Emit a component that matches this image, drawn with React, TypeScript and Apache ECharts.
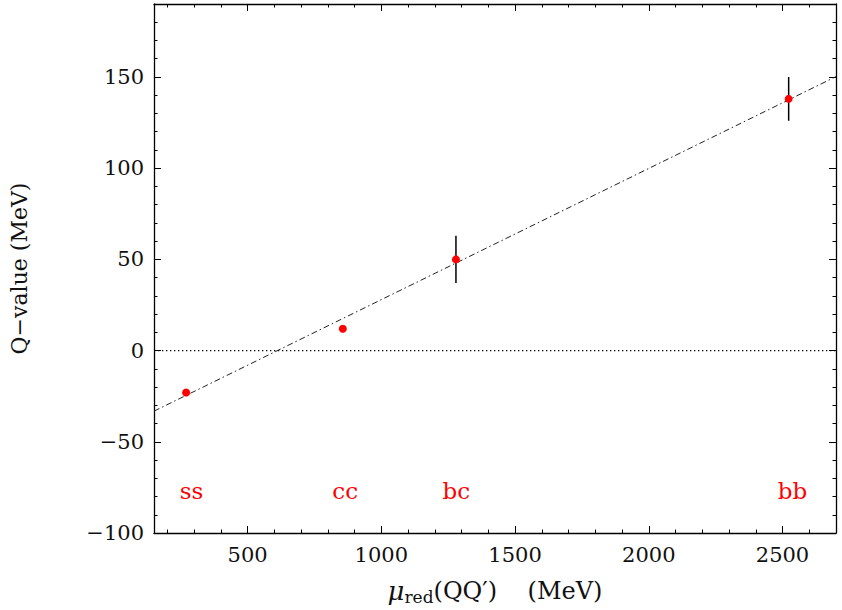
import React, { useEffect, useRef } from "react";
import * as echarts from "echarts";

// ---- data ----
const quarks = ["ss", "cc", "bc", "bb"];
const muRed = [270, 856, 1279, 2523];
const qValue = [-23, 12, 50, 138];
const qError = [0, 0, 13, 12];
const labelX = [290, 865, 1280, 2537];
const labelY = -77;
const fitX = [150, 2700];
const fitY = [-33.2, 150.2];
const zeroX = [150, 2700];
const zeroY = [0, 0];

// ---- axes / ticks ----
const xMin = 150;
const xMax = 2700;
const yMin = -100;
const yMax = 190;
const xMajor = [500, 1000, 1500, 2000, 2500];
const xMinor = [200, 300, 400, 600, 700, 800, 900, 1100, 1200, 1300, 1400, 1600, 1700, 1800, 1900, 2100, 2200, 2300, 2400, 2600];
const yMajor = [-100, -50, 0, 50, 100, 150];
const yMinor = [-90, -80, -70, -60, -40, -30, -20, -10, 10, 20, 30, 40, 60, 70, 80, 90, 110, 120, 130, 140, 160, 170, 180];

const FONT = "DejaVu Serif";
const fmt = (v: number) => (v < 0 ? "\u2212" + Math.abs(v) : String(v));

export default function App() {
  const ref = useRef<HTMLDivElement>(null);
  useEffect(() => {
    if (!ref.current) return;
    const chart = echarts.init(ref.current, undefined, { renderer: "svg" });
    const lineStyle = { color: "#000", width: 1.3 };
    const mkX = (pos: string, major: boolean, main = false) => ({
      type: "value",
      position: pos,
      min: xMin,
      max: xMax,
      axisLine: { show: major, onZero: false, lineStyle },
      axisTick: { show: true, inside: true, length: major ? 7 : 3.5, customValues: major ? xMajor : xMinor, lineStyle: { color: "#000", width: 1 } },
      axisLabel: main
        ? { show: true, customValues: xMajor, formatter: fmt, fontFamily: FONT, fontSize: 21, color: "#111", margin: 11 }
        : { show: false },
      splitLine: { show: false },
      ...(main
        ? {
            name: "{mu|μ}{sub|red}{n|(QQ′)    (MeV)}",
            nameLocation: "middle",
            nameGap: 43,
            nameTextStyle: {
              color: "#111",
              fontFamily: FONT,
              fontSize: 24,
              rich: {
                mu: { fontFamily: FONT, fontSize: 26, fontStyle: "italic", color: "#111" },
                sub: { fontFamily: FONT, fontSize: 17, color: "#111", padding: [12, 0, 0, 0] },
                n: { fontFamily: FONT, fontSize: 24, color: "#111" },
              },
            },
          }
        : {}),
    });
    const mkY = (pos: string, major: boolean, main = false) => ({
      type: "value",
      position: pos,
      min: yMin,
      max: yMax,
      axisLine: { show: major, onZero: false, lineStyle },
      axisTick: { show: true, inside: true, length: major ? 7 : 3.5, customValues: major ? yMajor : yMinor, lineStyle: { color: "#000", width: 1 } },
      axisLabel: main
        ? { show: true, customValues: yMajor, formatter: fmt, fontFamily: FONT, fontSize: 21, color: "#111", margin: 10 }
        : { show: false },
      splitLine: { show: false },
      ...(main
        ? {
            name: "Q−value (MeV)",
            nameLocation: "middle",
            nameGap: 124,
            nameTextStyle: { color: "#111", fontFamily: FONT, fontSize: 22 },
          }
        : {}),
    });

    const pts = muRed.map((x, i) => [x, qValue[i], qError[i]]);

    chart.setOption({
      animation: false,
      backgroundColor: "#fff",
      grid: { left: 153, right: 6, top: 4, bottom: 77, containLabel: false },
      xAxis: [mkX("bottom", true, true), mkX("top", true), mkX("bottom", false), mkX("top", false)],
      yAxis: [mkY("left", true, true), mkY("right", true), mkY("left", false), mkY("right", false)],
      series: [
        {
          type: "line",
          data: zeroX.map((x, i) => [x, zeroY[i]]),
          symbol: "none",
          lineStyle: { color: "#000", width: 1.3, type: [1.3, 2.7] },
          z: 2,
        },
        {
          type: "line",
          data: fitX.map((x, i) => [x, fitY[i]]),
          symbol: "none",
          lineStyle: { color: "#222", width: 1, type: [6, 3, 1.5, 3] },
          z: 2,
        },
        {
          type: "custom",
          data: pts.filter((p) => p[2] > 0),
          renderItem: (params: any, api: any) => {
            const x = api.value(0);
            const y = api.value(1);
            const e = api.value(2);
            const a = api.coord([x, y - e]);
            const b = api.coord([x, y + e]);
            return {
              type: "line",
              shape: { x1: a[0], y1: a[1], x2: b[0], y2: b[1] },
              style: { stroke: "#000", lineWidth: 1.5 },
            };
          },
          z: 3,
        },
        {
          type: "scatter",
          data: pts.map((p) => [p[0], p[1]]),
          symbol: "circle",
          symbolSize: 8,
          itemStyle: { color: "#ff0000", opacity: 1 },
          z: 4,
        },
        {
          type: "scatter",
          data: quarks.map((q, i) => ({ name: q, value: [labelX[i], labelY] })),
          symbolSize: 0,
          itemStyle: { opacity: 1 },
          label: {
            show: true,
            position: "inside",
            formatter: (p: any) => p.name,
            color: "#ff0000",
            fontFamily: FONT,
            fontSize: 23,
          },
          z: 5,
        },
      ],
    });
    return () => chart.dispose();
  }, []);
  return (
    <div
      ref={ref}
      style={{ position: "fixed", left: 0, top: 0, width: 842, height: 610, background: "#fff" }}
    />
  );
}
